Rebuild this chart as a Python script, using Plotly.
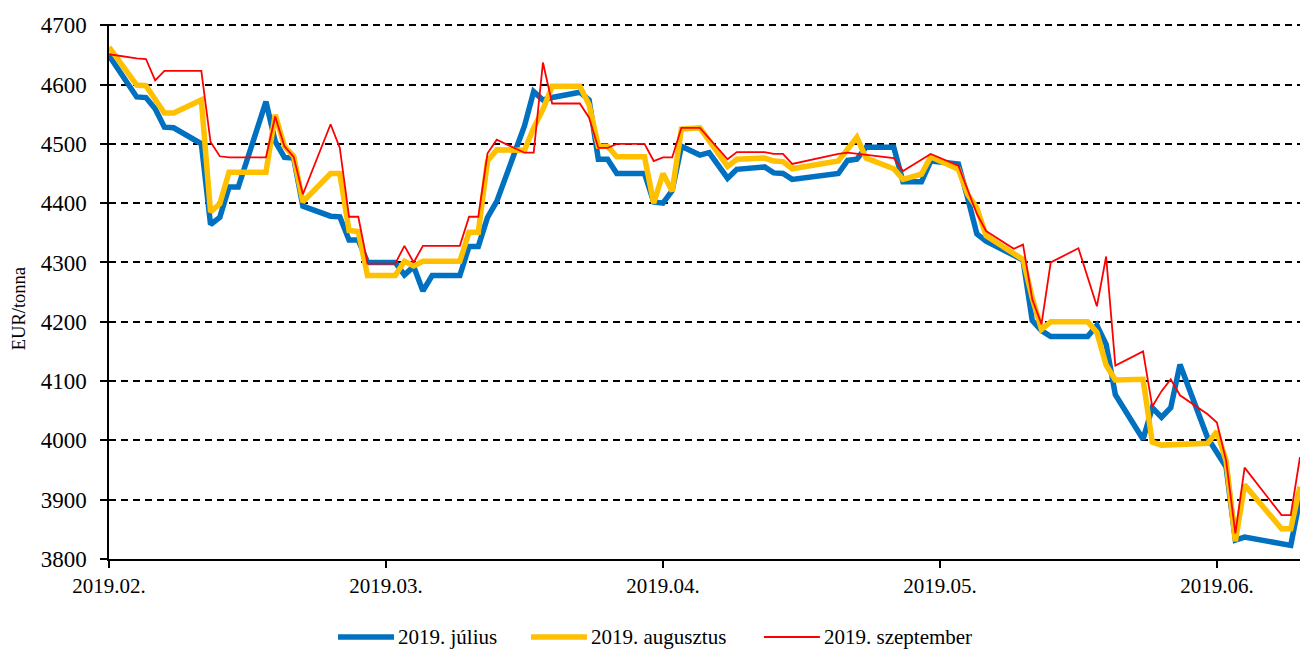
import plotly.graph_objects as go

# Daily settlement prices (EUR/tonne) for three delivery months
jul_dates = [
    "2019-02-01", "2019-02-04", "2019-02-05", "2019-02-06", "2019-02-07", "2019-02-08",
    "2019-02-11", "2019-02-12", "2019-02-13", "2019-02-14", "2019-02-15", "2019-02-18",
    "2019-02-19", "2019-02-20", "2019-02-21", "2019-02-22", "2019-02-25", "2019-02-26",
    "2019-02-27", "2019-02-28", "2019-03-01", "2019-03-04", "2019-03-05", "2019-03-06",
    "2019-03-07", "2019-03-08", "2019-03-11", "2019-03-12", "2019-03-13", "2019-03-14",
    "2019-03-15", "2019-03-18", "2019-03-19", "2019-03-20", "2019-03-21", "2019-03-24",
    "2019-03-25", "2019-03-26", "2019-03-27", "2019-03-28", "2019-03-31", "2019-04-01",
    "2019-04-02", "2019-04-03", "2019-04-04", "2019-04-06", "2019-04-07", "2019-04-09",
    "2019-04-10", "2019-04-13", "2019-04-14", "2019-04-15", "2019-04-16", "2019-04-21",
    "2019-04-22", "2019-04-23", "2019-04-24", "2019-04-27", "2019-04-28", "2019-04-30",
    "2019-05-01", "2019-05-04", "2019-05-05", "2019-05-06", "2019-05-07", "2019-05-11",
    "2019-05-12", "2019-05-13", "2019-05-14", "2019-05-18", "2019-05-19", "2019-05-20",
    "2019-05-21", "2019-05-24", "2019-05-25", "2019-05-26", "2019-05-27", "2019-05-28",
    "2019-05-31", "2019-06-02", "2019-06-03", "2019-06-04", "2019-06-09", "2019-06-10",
]
jul_values = [
    4649, 4579, 4578, 4559, 4528, 4527,
    4500, 4364, 4376, 4427, 4427, 4571,
    4504, 4477, 4476, 4395, 4378, 4377,
    4338, 4338, 4300, 4300, 4279, 4293,
    4252, 4278, 4278, 4327, 4327, 4376,
    4403, 4530, 4588, 4574, 4578, 4587,
    4574, 4474, 4474, 4450, 4450, 4402,
    4400, 4421, 4496, 4481, 4485, 4442,
    4457, 4461, 4451, 4450, 4440, 4450,
    4472, 4474, 4494, 4494, 4436, 4436,
    4471, 4466, 4409, 4348, 4336, 4304,
    4202, 4185, 4175, 4175, 4194, 4162,
    4077, 4002, 4055, 4039, 4055, 4128,
    4004, 3955, 3832, 3837, 3823, 3902,
]

aug_dates = [
    "2019-02-01", "2019-02-04", "2019-02-05", "2019-02-06", "2019-02-07", "2019-02-08",
    "2019-02-11", "2019-02-12", "2019-02-13", "2019-02-14", "2019-02-18", "2019-02-19",
    "2019-02-20", "2019-02-21", "2019-02-22", "2019-02-25", "2019-02-26", "2019-02-27",
    "2019-02-28", "2019-03-01", "2019-03-04", "2019-03-05", "2019-03-06", "2019-03-07",
    "2019-03-11", "2019-03-12", "2019-03-13", "2019-03-14", "2019-03-15", "2019-03-18",
    "2019-03-19", "2019-03-20", "2019-03-21", "2019-03-24", "2019-03-25", "2019-03-26",
    "2019-03-27", "2019-03-28", "2019-03-31", "2019-04-01", "2019-04-02", "2019-04-03",
    "2019-04-04", "2019-04-06", "2019-04-09", "2019-04-10", "2019-04-13", "2019-04-14",
    "2019-04-15", "2019-04-16", "2019-04-21", "2019-04-23", "2019-04-24", "2019-04-27",
    "2019-04-28", "2019-04-30", "2019-05-01", "2019-05-04", "2019-05-05", "2019-05-06",
    "2019-05-07", "2019-05-11", "2019-05-12", "2019-05-13", "2019-05-14", "2019-05-18",
    "2019-05-19", "2019-05-20", "2019-05-21", "2019-05-24", "2019-05-25", "2019-05-26",
    "2019-05-31", "2019-06-01", "2019-06-02", "2019-06-03", "2019-06-04", "2019-06-08",
    "2019-06-09", "2019-06-10",
]
aug_values = [
    4663, 4599, 4598, 4576, 4552, 4552,
    4574, 4385, 4399, 4452, 4452, 4549,
    4496, 4479, 4402, 4450, 4450, 4354,
    4352, 4278, 4278, 4302, 4294, 4302,
    4302, 4351, 4351, 4471, 4490, 4489,
    4527, 4558, 4597, 4597, 4566, 4496,
    4496, 4478, 4478, 4400, 4450, 4420,
    4525, 4527, 4462, 4474, 4476, 4471,
    4470, 4458, 4471, 4511, 4476, 4458,
    4440, 4449, 4478, 4457, 4415, 4392,
    4345, 4305, 4240, 4187, 4200, 4200,
    4182, 4127, 4102, 4103, 3997, 3992,
    3995, 4015, 3965, 3830, 3925, 3851,
    3851, 3922,
]

sep_dates = [
    "2019-02-01", "2019-02-04", "2019-02-05", "2019-02-06", "2019-02-07", "2019-02-11",
    "2019-02-12", "2019-02-13", "2019-02-14", "2019-02-18", "2019-02-19", "2019-02-20",
    "2019-02-21", "2019-02-22", "2019-02-25", "2019-02-26", "2019-02-27", "2019-02-28",
    "2019-03-01", "2019-03-04", "2019-03-05", "2019-03-06", "2019-03-07", "2019-03-11",
    "2019-03-12", "2019-03-13", "2019-03-14", "2019-03-15", "2019-03-18", "2019-03-19",
    "2019-03-20", "2019-03-21", "2019-03-24", "2019-03-25", "2019-03-26", "2019-03-27",
    "2019-03-28", "2019-03-31", "2019-04-01", "2019-04-02", "2019-04-03", "2019-04-04",
    "2019-04-06", "2019-04-09", "2019-04-10", "2019-04-13", "2019-04-14", "2019-04-15",
    "2019-04-16", "2019-04-21", "2019-04-22", "2019-04-27", "2019-04-28", "2019-05-01",
    "2019-05-04", "2019-05-06", "2019-05-07", "2019-05-10", "2019-05-11", "2019-05-12",
    "2019-05-13", "2019-05-14", "2019-05-17", "2019-05-19", "2019-05-20", "2019-05-21",
    "2019-05-24", "2019-05-25", "2019-05-26", "2019-05-27", "2019-05-28", "2019-05-31",
    "2019-06-01", "2019-06-02", "2019-06-03", "2019-06-04", "2019-06-08", "2019-06-09",
    "2019-06-10",
]
sep_values = [
    4651, 4644, 4643, 4607, 4623, 4623,
    4503, 4479, 4477, 4477, 4546, 4496,
    4478, 4415, 4533, 4493, 4377, 4377,
    4298, 4298, 4328, 4300, 4328, 4328,
    4377, 4377, 4484, 4507, 4485, 4485,
    4637, 4568, 4568, 4544, 4493, 4493,
    4500, 4500, 4471, 4477, 4477, 4527,
    4527, 4474, 4486, 4486, 4483, 4483,
    4466, 4483, 4485, 4476, 4454, 4483,
    4463, 4382, 4353, 4323, 4330, 4238,
    4196, 4300, 4324, 4226, 4310, 4126,
    4150, 4057, 4083, 4103, 4076, 4044,
    4030, 3966, 3843, 3954, 3874, 3874,
    3972,
]

tick_dates = ["2019-02-01", "2019-03-03", "2019-04-02", "2019-05-02", "2019-06-01"]
tick_labels = ["2019.02.", "2019.03.", "2019.04.", "2019.05.", "2019.06."]

FONT = "Liberation Serif, Times New Roman, serif"
Y_RANGE = [3800, 4702]

series = [
    ("2019. július", jul_dates, jul_values, "#0070C0", 5.5),
    ("2019. augusztus", aug_dates, aug_values, "#FFC000", 5.5),
    ("2019. szeptember", sep_dates, sep_values, "#FF0000", 1.8),
]

fig = go.Figure()
for name, xs, ys, color, width in series:
    fig.add_trace(go.Scatter(x=xs, y=ys, mode="lines", name=name,
                             line=dict(color=color, width=width), showlegend=False))

# Empty trace on a twin y axis, used only to draw the inner half of the cross ticks
fig.add_trace(go.Scatter(x=[], y=[], yaxis="y2", showlegend=False, hoverinfo="skip"))

# Legend row below the plot: a line sample followed by the series name
legend_x = [0.1923, 0.3543, 0.5499]   # left end of each sample, paper units
sample_len = 0.047
legend_y = -0.1458
for (name, _, _, color, width), lx in zip(series, legend_x):
    fig.add_shape(type="line", xref="paper", yref="paper",
                  x0=lx, x1=lx + sample_len, y0=legend_y, y1=legend_y,
                  line=dict(color=color, width=width))
    fig.add_annotation(xref="paper", yref="paper", x=lx + sample_len + 0.0015, y=legend_y,
                       text=name, showarrow=False, xanchor="left", yanchor="middle",
                       font=dict(size=21, family=FONT, color="black"))

# Vertical axis title
fig.add_annotation(xref="paper", yref="paper", x=-0.0755, y=0.467, text="EUR/tonna",
                   textangle=-90, showarrow=False, xanchor="center", yanchor="middle",
                   font=dict(size=18.5, family=FONT, color="black"))

fig.update_layout(
    width=1306, height=651,
    margin=dict(l=109, r=6, t=24, b=92, autoexpand=False),
    paper_bgcolor="white", plot_bgcolor="white",
    font=dict(family=FONT, color="black"),
    showlegend=False,
    yaxis2=dict(
        overlaying="y", anchor="x", side="left", range=Y_RANGE, tick0=3800, dtick=100,
        ticks="inside", ticklen=6, tickwidth=1.5, tickcolor="black",
        showticklabels=False, showgrid=False, showline=False, zeroline=False,
    ),
)
fig.update_xaxes(
    type="date", range=["2019-02-01", "2019-06-10"],
    tickmode="array", tickvals=tick_dates, ticktext=tick_labels,
    showline=True, linecolor="black", linewidth=1.5,
    ticks="outside", ticklen=7, tickwidth=1.5, tickcolor="black",
    showgrid=False, zeroline=False, tickfont=dict(size=21), automargin=False,
)
fig.update_yaxes(
    range=Y_RANGE, tick0=3800, dtick=100,
    showline=True, linecolor="black", linewidth=1.5,
    ticks="outside", ticklen=7, tickwidth=1.5, tickcolor="black",
    showgrid=True, gridcolor="black", gridwidth=1.5, griddash="7px,5px",
    zeroline=False, tickfont=dict(size=23), ticklabelstandoff=9, automargin=False,
    selector=dict(overlaying=None),
)
fig.layout.yaxis.update(range=Y_RANGE)

fig.write_html("out.html")
